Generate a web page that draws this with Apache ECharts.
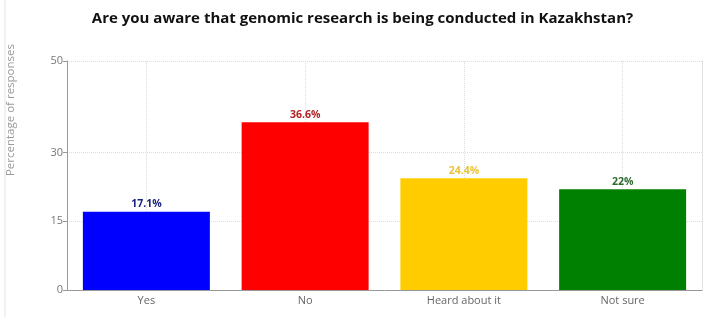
<!DOCTYPE html>
<html>
<head>
<meta charset="utf-8">
<script src="https://cdn.jsdelivr.net/npm/echarts@6/dist/echarts.min.js"></script>
<style>
  html, body { margin: 0; padding: 0; background: #fff; }
  #chart { width: 725px; height: 317px; }
</style>
</head>
<body>
<div id="chart"></div>
<script>
// data
var categories = ['Yes', 'No', 'Heard about it', 'Not sure'];
var values = [17.1, 36.6, 24.4, 22];
var barColors = ['#0000ff', '#ff0000', '#ffcc00', '#008000'];
var labelColors = ['#1a237e', '#b22222', '#e8c43a', '#2e6b2e'];
var yTicks = [0, 15, 30, 50];

var chart = echarts.init(document.getElementById('chart'));

chart.setOption({
    backgroundColor: '#fff',
    animation: false,
    title: {
        text: 'Are you aware that genomic research is being conducted in Kazakhstan?',
        left: 'center',
        top: 6,
        textStyle: {
            fontFamily: 'Open Sans',
            fontWeight: 'bold',
            fontSize: 15,
            color: '#111'
        }
    },
    graphic: [{
        type: 'text',
        left: 5,
        top: 44,
        rotation: Math.PI / 2,
        style: {
            text: 'Percentage of responses',
            fontFamily: 'Open Sans',
            fontSize: 11.5,
            fill: '#9a9a9a'
        }
    }, {
        type: 'line',
        shape: { x1: 5, y1: 0, x2: 5, y2: 317 },
        style: { stroke: '#e4e4e4', lineWidth: 1 }
    }],
    grid: {
        left: 67,
        right: 23,
        top: 61,
        bottom: 27
    },
    xAxis: {
        type: 'category',
        data: categories,
        axisLine: { lineStyle: { color: '#999' } },
        axisTick: { alignWithLabel: true, length: 3, lineStyle: { color: '#bbb' } },
        axisLabel: { color: '#666', fontFamily: 'Open Sans', fontSize: 11, margin: 5 },
        splitLine: {
            show: true,
            alignWithLabel: true,
            lineStyle: { color: '#ddd', type: 'dotted' }
        }
    },
    yAxis: [{
        type: 'value',
        min: 0,
        max: 50,
        axisLine: { show: true, lineStyle: { color: '#999' } },
        axisTick: { show: true, length: 4, customValues: yTicks, lineStyle: { color: '#999' } },
        axisLabel: { customValues: yTicks, color: '#777', fontFamily: 'Open Sans', fontSize: 11, margin: 4 },
        splitLine: { show: true, lineStyle: { color: '#ddd', type: 'dotted' } }
    }, {
        type: 'value',
        position: 'right',
        min: 0,
        max: 50,
        axisLine: { show: true, lineStyle: { color: '#ddd', type: 'dotted' } },
        axisTick: { show: false },
        axisLabel: { show: false },
        splitLine: { show: false }
    }],
    series: [{
        type: 'bar',
        barWidth: '80%',
        data: values.map(function (v, i) {
            return {
                value: v,
                itemStyle: { color: barColors[i] },
                label: { color: labelColors[i] }
            };
        }),
        label: {
            show: true,
            position: 'top',
            distance: 2,
            fontFamily: 'Open Sans',
            fontWeight: 'bold',
            fontSize: 10.5,
            formatter: function (p) { return p.value + '%'; }
        }
    }]
});
</script>
</body>
</html>
